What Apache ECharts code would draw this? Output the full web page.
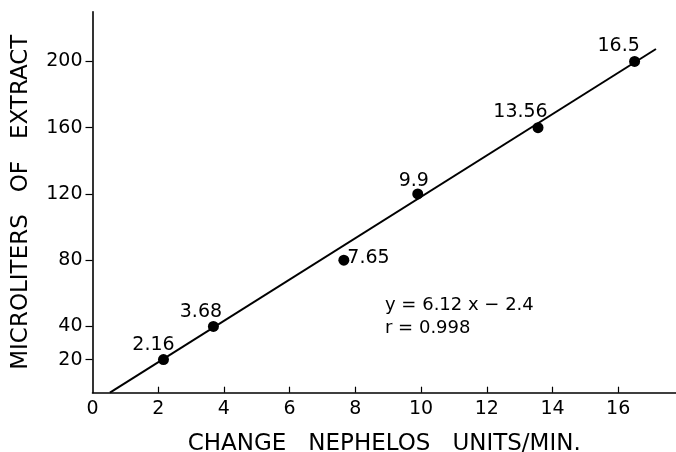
<!DOCTYPE html>
<html>
<head>
<meta charset="utf-8">
<script src="https://cdn.jsdelivr.net/npm/echarts@6/dist/echarts.min.js"></script>
<style>
  html, body { margin: 0; padding: 0; background: #fff; }
  #chart { width: 676px; height: 452px; }
</style>
</head>
<body>
<div id="chart"></div>
<script>
// Calibration points: nephelos rate change vs. extract volume
const rateValues = [2.16, 3.68, 7.65, 9.9, 13.56, 16.5];
const volumeValues = [20, 40, 80, 120, 160, 200];

// Ends of the fitted calibration line
const fitLineX = [0.53, 17.15];
const fitLineY = [0, 207.5];

// Axis ticks
const xTickLabels = [0, 2, 4, 6, 8, 10, 12, 14, 16];
const yTickLabels = [20, 40, 80, 120, 160, 200];

const equationLines = ['y = 6.12 x \u2212 2.4', 'r = 0.998'];

const FONT = 'DejaVu Sans';
const INK = '#000';

// Where each point's value label sits relative to its dot
const labelPlacement = [
  { position: 'top', offset: [-10, 6.5] },
  { position: 'top', offset: [-12.5, 6.5] },
  { position: 'right', offset: [-8, -2] },
  { position: 'top', offset: [-4, 8.5] },
  { position: 'top', offset: [-17.5, 5] },
  { position: 'top', offset: [-16, 5.5] }
];

const scatterData = rateValues.map((x, i) => ({
  value: [x, volumeValues[i]],
  label: labelPlacement[i]
}));

const lineData = fitLineX.map((x, i) => [x, fitLineY[i]]);

const chart = echarts.init(document.getElementById('chart'), null, { renderer: 'canvas' });

chart.setOption({
  animation: false,
  backgroundColor: '#fff',
  grid: { left: 92.5, right: 0, top: 11.7, bottom: 59.3, containLabel: false, outerBoundsMode: 'none' },
  xAxis: {
    type: 'value',
    min: 0,
    max: 17.76,
    interval: 2,
    name: 'CHANGE   NEPHELOS   UNITS/MIN.',
    nameLocation: 'middle',
    nameGap: 40,
    nameTextStyle: { fontFamily: FONT, fontSize: 23, color: INK, verticalAlign: 'top' },
    axisLine: { show: true, onZero: false, lineStyle: { color: INK, width: 1.6 } },
    axisTick: { show: true, inside: true, length: 6, lineStyle: { color: INK, width: 1.2 },
                customValues: xTickLabels.filter(v => v > 0) },
    axisLabel: { show: true, margin: 7, fontFamily: FONT, fontSize: 19, color: INK,
                 customValues: xTickLabels },
    splitLine: { show: false }
  },
  yAxis: {
    type: 'value',
    min: 0,
    max: 230,
    interval: 20,
    name: 'MICROLITERS   OF   EXTRACT',
    nameLocation: 'middle',
    nameRotate: 90,
    nameGap: 60,
    nameTextStyle: { fontFamily: FONT, fontSize: 23, color: INK },
    axisLine: { show: true, onZero: false, lineStyle: { color: INK, width: 1.6 } },
    axisTick: { show: true, inside: false, length: 7, lineStyle: { color: INK, width: 1.2 },
                customValues: yTickLabels },
    axisLabel: { show: true, margin: 10, fontFamily: FONT, fontSize: 19, color: INK,
                 customValues: yTickLabels },
    splitLine: { show: false }
  },
  series: [
    {
      type: 'line',
      data: lineData,
      symbol: 'none',
      silent: true,
      lineStyle: { color: INK, width: 2 },
      z: 2
    },
    {
      type: 'scatter',
      data: scatterData,
      symbol: 'circle',
      symbolSize: 11,
      itemStyle: { color: INK, opacity: 1 },
      label: {
        show: true,
        fontFamily: FONT,
        fontSize: 19,
        color: INK,
        distance: 6,
        formatter: p => String(p.value[0])
      },
      z: 3
    }
  ],
  graphic: [
    {
      type: 'text',
      left: 385,
      top: 294,
      style: {
        text: equationLines.join('\n'),
        fontFamily: FONT,
        fontSize: 18,
        lineHeight: 23,
        fill: INK
      }
    }
  ]
});
</script>
</body>
</html>
